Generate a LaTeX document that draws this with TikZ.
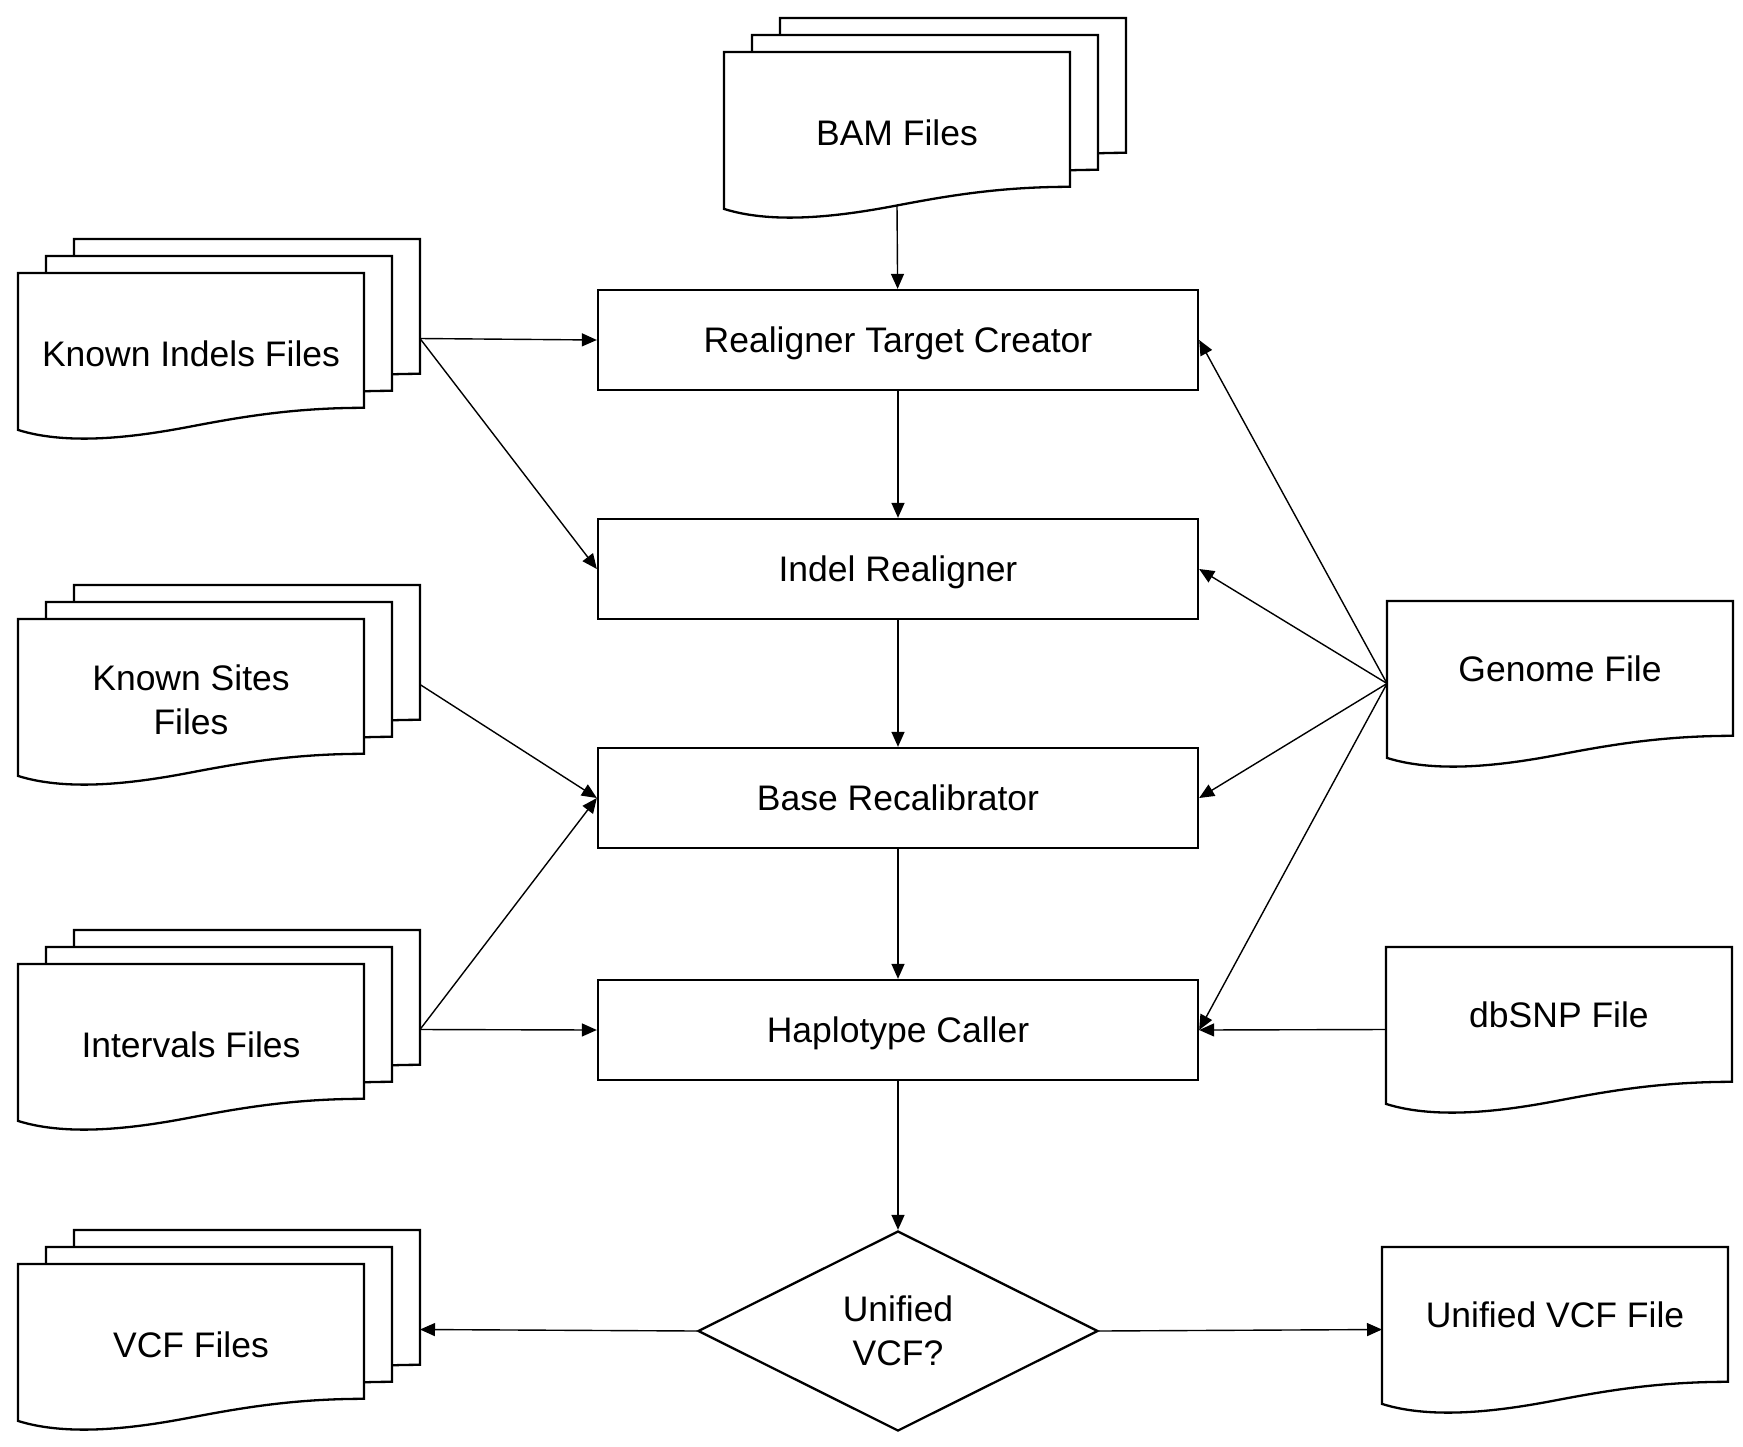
\documentclass[tikz,border=0pt]{standalone}
\usepackage{fontspec}
\setmainfont{Liberation Sans}
\usetikzlibrary{shapes.geometric,arrows.meta}
\newcommand{\drawflow}{\draw[line width=1.4pt,-{Triangle[length=15pt,width=13pt]}]}
\newcommand{\filedoc}[2]{
  \begin{scope}[shift={(#1,#2)},x=346pt,y=-165pt]
    \draw[line width=2.3pt,fill=white] (0,0)--(1,0)--(1,.817) .. controls (.8,.817) and (.65,.87) .. (.5,.93) .. controls (.35,.99) and (.15,1.05) .. (0,.951)--cycle;
  \end{scope}
}
\newcommand{\filestack}[4]{
  \filedoc{#1+56}{#2-34}\filedoc{#1+28}{#2-17}\filedoc{#1}{#2}
  \node[doctext] (#3) at (#1+173,#2+81) {#4};
  \coordinate (#3-e) at (#1+402,#2+65.5);
  \coordinate (#3-s) at (#1+173,#2+153);
}
\newcommand{\filesingle}[4]{
  \filedoc{#1}{#2}
  \node[doctext] (#3) at (#1+173,#2+68) {#4};
  \coordinate (#3-w) at (#1,#2+82.5);
}

\begin{document}
\begin{tikzpicture}[x=1pt,y=-1pt,font=\fontsize{35.5}{44.5}\selectfont,
  procbox/.style={draw,line width=2.3pt,minimum width=600pt,minimum height=100pt,inner sep=0pt,text height=25.4pt,text depth=0pt},
  decision/.style={draw,diamond,line width=2.3pt,minimum width=400pt,minimum height=200pt,inner sep=0pt,align=center},
  doctext/.style={align=center,inner sep=0pt}]
\useasboundingbox (0,0) rectangle (1743,1446);
\filestack{724}{52}{bam}{BAM Files}
\filestack{18}{273}{indels}{Known Indels Files}
\filestack{18}{619}{sites}{Known Sites\\Files}
\filestack{18}{964}{intervals}{Intervals Files}
\filestack{18}{1264}{vcfs}{VCF Files}
\filesingle{1387}{601}{genome}{Genome File}
\filesingle{1386}{947}{dbsnp}{dbSNP File}
\filesingle{1382}{1247}{ufile}{Unified VCF File}
\node[procbox] (rtc) at (898,340) {Realigner Target Creator};
\node[procbox] (ir) at (898,569) {Indel Realigner};
\node[procbox] (br) at (898,798) {Base Recalibrator};
\node[procbox] (hc) at (898,1030) {Haplotype Caller};
\node[decision] (unified) at (898,1331) {Unified\\VCF?};
\drawflow (bam-s) -- (rtc);
\drawflow (rtc) -- (ir);
\drawflow (ir) -- (br);
\drawflow (br) -- (hc);
\drawflow (hc) -- (unified);
\drawflow (indels-e) -- (rtc.west);
\drawflow (indels-e) -- (ir.west);
\drawflow (sites-e) -- (br.west);
\drawflow (intervals-e) -- (br.west);
\drawflow (intervals-e) -- (hc.west);
\drawflow (genome-w) -- (rtc.east);
\drawflow (genome-w) -- (ir.east);
\drawflow (genome-w) -- (br.east);
\drawflow (genome-w) -- (hc.east);
\drawflow (dbsnp-w) -- (hc.east);
\drawflow (unified.west) -- (vcfs-e);
\drawflow (unified.east) -- (ufile-w);
\end{tikzpicture}
\end{document}
